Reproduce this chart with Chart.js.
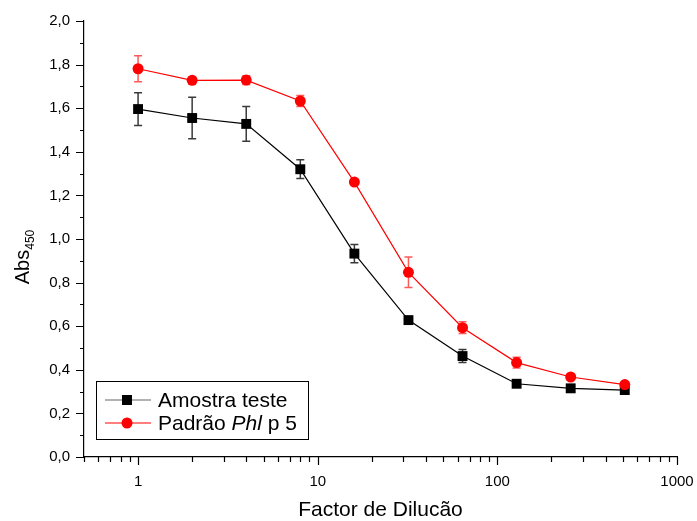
<!DOCTYPE html>
<html>
<head>
<meta charset="utf-8">
<script src="https://cdn.jsdelivr.net/npm/chart.js@4.4.1/dist/chart.umd.min.js"></script>
<style>
html,body{margin:0;padding:0;background:#fff;}
#wrap{width:697px;height:521px;position:relative;}
</style>
</head>
<body>
<div id="wrap"><canvas id="c" width="697" height="521"></canvas></div>
<script>
// ---- data ----
const dilutions   = [1, 2, 4, 8, 16, 32, 64, 128, 256, 512];
const amostra     = [1.596, 1.555, 1.528, 1.320, 0.933, 0.628, 0.463, 0.336, 0.315, 0.307];
const amostraErr  = [0.075, 0.095, 0.080, 0.043, 0.042, 0.008, 0.030, 0.010, 0.015, 0.010];
const padrao      = [1.781, 1.728, 1.729, 1.633, 1.261, 0.847, 0.593, 0.433, 0.367, 0.332];
const padraoErr   = [0.060, 0.015, 0.020, 0.025, 0.008, 0.070, 0.027, 0.025, 0.010, 0.008];
const xMajorTicks = [1, 10, 100, 1000];
const yTickValues = [0, 0.2, 0.4, 0.6, 0.8, 1.0, 1.2, 1.4, 1.6, 1.8, 2.0];
const xTitle = 'Factor de Dilucão';
const yTitleMain = 'Abs';
const yTitleSub = '450';
const legendNames = ['Amostra teste', ['Padrão ', 'Phl', ' p 5']];

const FONT = "'Liberation Sans', Arial, Helvetica, sans-serif";

const toPts = (ys) => dilutions.map((x, i) => ({x: x, y: ys[i]}));

const errorBars = {
  id: 'errorBars',
  beforeDatasetDraw(chart, args) {
    const ds = chart.data.datasets[args.index];
    if (!ds.errors) return;
    const ctx = chart.ctx, xs = chart.scales.x, ys = chart.scales.y;
    ctx.save();
    ctx.strokeStyle = ds.errorColor;
    ctx.lineWidth = 1.5;
    ds.data.forEach((p, i) => {
      const e = ds.errors[i];
      const px = xs.getPixelForValue(p.x);
      const top = ys.getPixelForValue(p.y + e);
      const bot = ys.getPixelForValue(p.y - e);
      ctx.beginPath();
      ctx.moveTo(px, top); ctx.lineTo(px, bot);
      ctx.moveTo(px - 4, top); ctx.lineTo(px + 4, top);
      ctx.moveTo(px - 4, bot); ctx.lineTo(px + 4, bot);
      ctx.stroke();
    });
    ctx.restore();
  }
};

const decor = {
  id: 'decor',
  afterDraw(chart) {
    const ctx = chart.ctx, xs = chart.scales.x, ys = chart.scales.y;
    const area = chart.chartArea;
    ctx.save();
    ctx.strokeStyle = '#000';
    ctx.lineWidth = 1.2;
    // x ticks (major + minor), outward
    ctx.beginPath();
    for (let d = 0.1; d < 1000; d *= 10) {
      for (let m = 1; m <= 9; m++) {
        const v = Math.round(d * m * 1000) / 1000;
        if (v < xs.min - 1e-9 || v > xs.max + 1e-9) continue;
        const px = Math.round(xs.getPixelForValue(v)) + 0.5;
        const len = (m === 1) ? 8 : 5;
        ctx.moveTo(px, area.bottom); ctx.lineTo(px, area.bottom + len);
      }
    }
    const pxEnd = Math.round(xs.getPixelForValue(1000)) + 0.5;
    ctx.moveTo(pxEnd, area.bottom); ctx.lineTo(pxEnd, area.bottom + 8);
    // y ticks
    for (let k = 0; k <= 20; k++) {
      const v = k / 10;
      const py = Math.round(ys.getPixelForValue(v)) + 0.5;
      const len = (k % 2 === 0) ? 8 : 4;
      ctx.moveTo(area.left, py); ctx.lineTo(area.left - len, py);
    }
    ctx.stroke();

    // axis titles
    ctx.fillStyle = '#000';
    ctx.font = '21px ' + FONT;
    ctx.textAlign = 'center';
    ctx.textBaseline = 'alphabetic';
    ctx.fillText(xTitle, (area.left + area.right) / 2, 516);

    ctx.save();
    ctx.translate(29, 257);
    ctx.rotate(-Math.PI / 2);
    ctx.font = '20px ' + FONT;
    const wMain = ctx.measureText(yTitleMain).width;
    ctx.font = '12px ' + FONT;
    const wSub = ctx.measureText(yTitleSub).width;
    const total = wMain + wSub;
    ctx.textAlign = 'left';
    ctx.font = '20px ' + FONT;
    ctx.fillText(yTitleMain, -total / 2, 0);
    ctx.font = '12px ' + FONT;
    ctx.fillText(yTitleSub, -total / 2 + wMain, 5);
    ctx.restore();

    // legend
    const bx = 96.5, by = 381.5, bw = 212, bh = 58;
    ctx.lineWidth = 1;
    ctx.strokeStyle = '#000';
    ctx.strokeRect(bx, by, bw, bh);
    const rows = [400, 423];
    const dsets = chart.data.datasets;
    rows.forEach((ry, i) => {
      const ds = dsets[i];
      ctx.strokeStyle = ds.legendLine;
      ctx.lineWidth = 1.2;
      ctx.beginPath();
      ctx.moveTo(105, ry); ctx.lineTo(151, ry);
      ctx.stroke();
      ctx.fillStyle = ds.pointBackgroundColor;
      if (ds.pointStyle === 'rect') {
        ctx.fillRect(122, ry - 5, 10, 10);
      } else {
        ctx.beginPath();
        ctx.arc(127, ry, 5.5, 0, Math.PI * 2);
        ctx.fill();
      }
    });
    ctx.fillStyle = '#000';
    ctx.textAlign = 'left';
    ctx.textBaseline = 'middle';
    ctx.font = '21px ' + FONT;
    ctx.fillText(legendNames[0], 158, rows[0] + 1);
    let tx = 158;
    const parts = legendNames[1];
    parts.forEach((t, j) => {
      ctx.font = (j === 1 ? 'italic ' : '') + '21px ' + FONT;
      ctx.fillText(t, tx, rows[1] + 1);
      tx += ctx.measureText(t).width;
    });
    ctx.restore();
  }
};

new Chart(document.getElementById('c'), {
  type: 'scatter',
  data: {
    datasets: [
      {
        label: 'Amostra teste',
        data: toPts(amostra),
        errors: amostraErr,
        errorColor: '#3a3a3a',
        legendLine: '#666666',
        showLine: true,
        borderColor: '#000000',
        borderWidth: 1.2,
        pointStyle: 'rect',
        pointRadius: 7,
        pointBorderWidth: 0,
        pointBackgroundColor: '#000000',
        pointBorderColor: '#000000',
        order: 2
      },
      {
        label: 'Padrão Phl p 5',
        data: toPts(padrao),
        errors: padraoErr,
        errorColor: '#ff5a5a',
        legendLine: '#ff0000',
        showLine: true,
        borderColor: '#ff0000',
        borderWidth: 1.2,
        pointStyle: 'circle',
        pointRadius: 5.5,
        pointBorderWidth: 0,
        pointBackgroundColor: '#ff0000',
        pointBorderColor: '#ff0000',
        order: 1
      }
    ]
  },
  options: {
    responsive: false,
    animation: false,
    events: [],
    layout: { padding: { left: 0, right: 20, top: 21, bottom: 0 } },
    plugins: { legend: { display: false }, tooltip: { enabled: false } },
    scales: {
      x: {
        type: 'logarithmic',
        min: 0.5, max: 1000,
        grid: { display: false, drawTicks: true, tickLength: 8 },
        border: { display: true, color: '#000', width: 1.2 },
        afterBuildTicks: (s) => { s.ticks = xMajorTicks.map(v => ({value: v})); },
        ticks: {
          autoSkip: false, maxRotation: 0, padding: 8,
          color: '#000',
          font: { family: FONT, size: 15 },
          callback: (v) => String(v)
        },
        afterFit: (s) => { s.height = 64; s.paddingLeft = 0; s.paddingRight = 0; }
      },
      y: {
        type: 'linear',
        min: 0, max: 2,
        grid: { display: false, drawTicks: true, tickLength: 8 },
        border: { display: true, color: '#000', width: 1.2 },
        afterBuildTicks: (s) => { s.ticks = yTickValues.map(v => ({value: v})); },
        ticks: {
          autoSkip: false, padding: 6,
          color: '#000',
          font: { family: FONT, size: 15 },
          callback: (v) => Number(v).toFixed(1).replace('.', ',')
        },
        afterFit: (s) => { s.width = 84; s.paddingTop = 0; s.paddingBottom = 0; }
      }
    }
  },
  plugins: [errorBars, decor]
});
</script>
</body>
</html>
